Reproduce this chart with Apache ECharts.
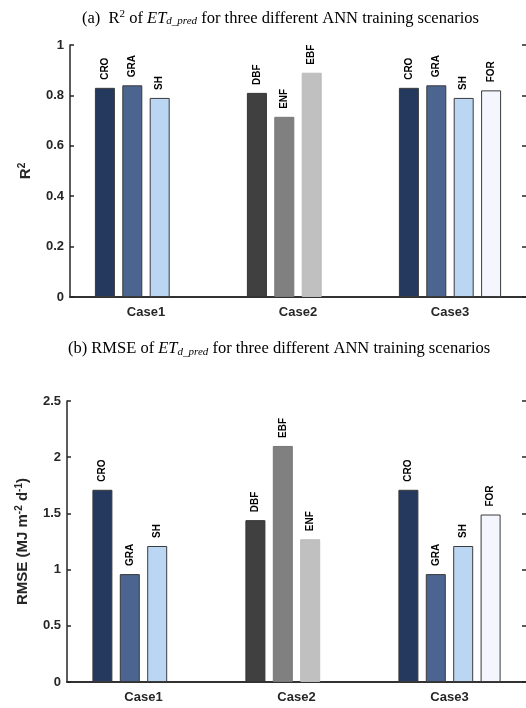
<!DOCTYPE html>
<html><head><meta charset="utf-8">
<script src="https://cdn.jsdelivr.net/npm/echarts@6/dist/echarts.min.js"></script>
<style>html,body{margin:0;padding:0;background:#fff}#c{width:526px;height:708px}</style>
</head><body><div id="c"></div>
<script>
// ---- data ----
const categories = ["Case1", "Case2", "Case3"];
// panel (a) R2, four bar slots per case
const r2Slot1 = [0.83, 0.81, 0.83];
const r2Slot2 = [0.84, 0.715, 0.84];
const r2Slot3 = [0.79, 0.89, 0.79];
const r2Slot4 = ['-', '-', 0.82];
const r2Names1 = ["CRO", "DBF", "CRO"];
const r2Names2 = ["GRA", "ENF", "GRA"];
const r2Names3 = ["SH", "EBF", "SH"];
const r2Names4 = ["", "", "FOR"];
// panel (b) RMSE
const rmseSlot1 = [1.71, 1.44, 1.71];
const rmseSlot2 = [0.96, 2.10, 0.96];
const rmseSlot3 = [1.21, 1.27, 1.21];
const rmseSlot4 = ['-', '-', 1.49];
const rmseNames1 = ["CRO", "DBF", "CRO"];
const rmseNames2 = ["GRA", "EBF", "GRA"];
const rmseNames3 = ["SH", "ENF", "SH"];
const rmseNames4 = ["", "", "FOR"];
const r2Ticks = [0, 0.2, 0.4, 0.6, 0.8, 1];
const rmseTicks = [0, 0.5, 1, 1.5, 2, 2.5];

// ---- styles ----
const blueFill = ['#25385e', '#4c6490', '#bad6f3', '#f3f7fd'];
const grayFill = ['#404040', '#808080', '#c0c0c0', '#e0e0e0'];
const grayEdge = ['#333333', '#777777', '#bbbbbb', '#cccccc'];
const AX = '#262626';
const SANS = 'Liberation Sans, Arial, sans-serif';
const SERIF = 'Liberation Serif, Times New Roman, serif';

function mkSeries(values, names, slot, gi) {
  return {
    type: 'bar', xAxisIndex: gi * 2, yAxisIndex: gi * 2,
    barWidth: 20, barGap: '37%',
    data: values.map((v, i) => ({
      value: v,
      itemStyle: {
        color: i === 1 ? grayFill[slot] : blueFill[slot],
        borderColor: i === 1 ? grayEdge[slot] : '#3a3a3a',
        borderWidth: 1
      }
    })),
    label: {
      show: true, position: 'top', rotate: 90, distance: 8,
      align: 'left', verticalAlign: 'middle',
      fontFamily: SANS, fontWeight: 'bold', fontSize: 10, color: '#000',
      formatter: p => names[p.dataIndex]
    },
    silent: true, animation: false
  };
}

function axesFor(gi, ticks, name, nameGap) {
  const step = ticks[1] - ticks[0];
  const xs = [
    { type: 'category', gridIndex: gi, data: categories, position: 'bottom',
      axisLine: { lineStyle: { color: AX, width: 1.5 } },
      axisTick: { inside: true, length: 4, alignWithLabel: true, lineStyle: { color: AX, width: 1.5 } },
      axisLabel: { fontFamily: SANS, fontWeight: 'bold', fontSize: 13, color: AX, margin: 9 } },
    { type: 'category', gridIndex: gi, data: categories, position: 'top',
      axisLine: { lineStyle: { color: AX, width: 1.5 } },
      axisTick: { inside: true, length: 4, alignWithLabel: true, lineStyle: { color: AX, width: 1.5 } },
      axisLabel: { show: false } }
  ];
  const ys = [
    { type: 'value', gridIndex: gi, min: ticks[0], max: ticks[ticks.length - 1], interval: step,
      position: 'left',
      axisLine: { show: true, lineStyle: { color: AX, width: 1.5 } },
      axisTick: { show: true, inside: true, length: 4, lineStyle: { color: AX, width: 1.5 } },
      splitLine: { show: false },
      axisLabel: { fontFamily: SANS, fontWeight: 'bold', fontSize: 13, color: AX, margin: 6,
        formatter: v => String(+v.toFixed(2)) },
      name: name, nameLocation: 'middle', nameGap: nameGap,
      nameTextStyle: { fontFamily: SANS, fontWeight: 'bold', fontSize: 15, color: AX,
        rich: {
          b: { fontFamily: SANS, fontWeight: 'bold', fontSize: 15, color: AX },
          s: { fontFamily: SANS, fontWeight: 'bold', fontSize: 10, color: AX, verticalAlign: 'bottom', padding: [0, 0, 7, 0] }
        } } },
    { type: 'value', gridIndex: gi, min: ticks[0], max: ticks[ticks.length - 1], interval: step,
      position: 'right',
      axisLine: { show: false },
      axisTick: { show: true, inside: true, length: 4, lineStyle: { color: AX, width: 1.5 } },
      splitLine: { show: false }, axisLabel: { show: false } }
  ];
  return { xs, ys };
}

const a = axesFor(0, r2Ticks, '{b|R}{s|2}', 36);
const b = axesFor(1, rmseTicks, '{b|RMSE (MJ m}{s|-2}{b| d}{s|-1}{b|)}', 36);

const titleRich = {
  n: { fontFamily: SERIF, fontSize: 16.5, fontWeight: 'normal', color: '#000' },
  sup: { fontFamily: SERIF, fontSize: 11, fontWeight: 'normal', color: '#000', verticalAlign: 'bottom', padding: [0, 0, 8, 0] },
  it: { fontFamily: SERIF, fontSize: 16.5, fontWeight: 'normal', fontStyle: 'italic', color: '#000' },
  sub: { fontFamily: SERIF, fontSize: 11, fontWeight: 'normal', fontStyle: 'italic', color: '#000', verticalAlign: 'top', padding: [7, 0, 0, 0] }
};

const option = {
  animation: false,
  backgroundColor: '#fff',
  title: [
    { text: '{n|(a)  R}{sup|2}{n| of }{it|ET}{sub|d_pred}{n| for three different ANN training scenarios}',
      left: 77, top: 4, textStyle: { fontWeight: 'normal', rich: titleRich } },
    { text: '{n|(b) RMSE of }{it|ET}{sub|d_pred}{n| for three different ANN training scenarios}',
      left: 63, top: 335, textStyle: { fontWeight: 'normal', rich: titleRich } }
  ],
  grid: [
    { left: 70, right: -1, top: 45, height: 252 },
    { left: 67, right: -3, top: 401, height: 281 }
  ],
  xAxis: [a.xs[0], a.xs[1], b.xs[0], b.xs[1]],
  yAxis: [a.ys[0], a.ys[1], b.ys[0], b.ys[1]],
  series: [
    mkSeries(r2Slot1, r2Names1, 0, 0),
    mkSeries(r2Slot2, r2Names2, 1, 0),
    mkSeries(r2Slot3, r2Names3, 2, 0),
    mkSeries(r2Slot4, r2Names4, 3, 0),
    mkSeries(rmseSlot1, rmseNames1, 0, 1),
    mkSeries(rmseSlot2, rmseNames2, 1, 1),
    mkSeries(rmseSlot3, rmseNames3, 2, 1),
    mkSeries(rmseSlot4, rmseNames4, 3, 1)
  ]
};
const chart = echarts.init(document.getElementById('c'), null, { renderer: 'canvas' });
chart.setOption(option);
</script>
</body></html>
